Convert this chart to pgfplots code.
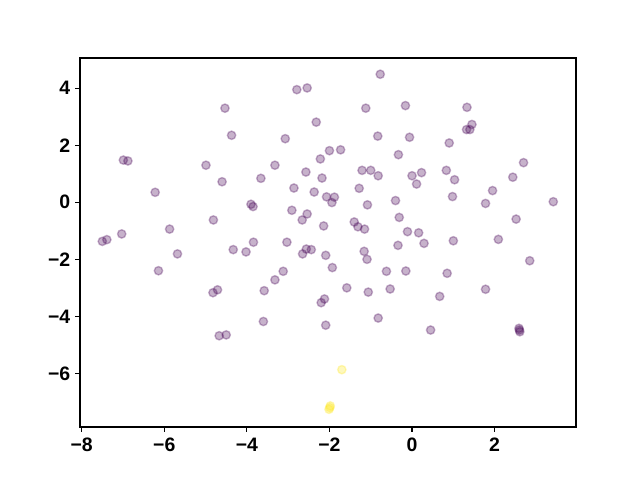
\documentclass[border=0pt]{standalone}
\usepackage{pgfplots}
\pgfplotsset{compat=1.18}
\usepackage{fontspec}
\setmainfont{Liberation Sans}
\definecolor{vpurple}{HTML}{440154}
\definecolor{vyellow}{HTML}{FDE725}
\begin{document}
\begin{tikzpicture}
\path[use as bounding box] (-57.6pt,-38.16pt) rectangle (403.2pt,307.44pt);
\begin{axis}[
  scale only axis,
  width=357.12pt, height=265.68pt,
  xmin=-8.04, xmax=3.97, ymin=-7.88, ymax=5.06,
  axis line style={line width=0.8pt},
  tick style={line width=0.8pt, black},
  tick align=outside, major tick length=3.5pt,
  xtick pos=bottom, ytick pos=left,
  xtick={-8,-6,-4,-2,0,2}, xticklabels={−8,−6,−4,−2,0,2},
  ytick={-6,-4,-2,0,2,4}, yticklabels={−6,−4,−2,0,2,4},
  ticklabel style={font=\bfseries\fontsize{14}{16}\selectfont},
  xticklabel style={yshift=-1pt},
  every axis plot/.append style={only marks, mark=*, mark size=3pt},
]
\addplot[vpurple, mark options={fill=vpurple, fill opacity=0.3, draw opacity=0.3, line width=1pt}] coordinates {
(-0.77,4.49) (-2.79,3.95) (-2.54,4.01) (-4.53,3.30) (-1.12,3.30) (-0.16,3.39)
(1.33,3.33) (-2.32,2.81) (-4.37,2.35) (-3.07,2.23) (-0.83,2.32) (-0.06,2.28)
(0.90,2.08) (1.32,2.55) (1.40,2.55) (1.45,2.73) (-6.99,1.48) (-6.88,1.45)
(-4.99,1.30) (-4.60,0.72) (-0.33,1.67) (-2.00,1.81) (-1.73,1.84) (-2.22,1.52)
(-3.32,1.30) (-2.57,1.06) (-1.21,1.12) (-1.00,1.12) (-0.82,0.93) (-3.66,0.84)
(-2.18,0.85) (0.00,0.93) (2.70,1.39) (2.44,0.88) (0.83,1.12) (1.03,0.79)
(0.23,1.04) (0.11,0.64) (-6.22,0.35) (-2.86,0.50) (-2.37,0.36) (-2.07,0.19)
(-1.88,0.18) (-1.94,-0.01) (-1.28,0.49) (-1.08,-0.09) (-0.40,0.06) (-0.31,-0.53)
(-0.11,-1.03) (-3.90,-0.07) (-3.85,-0.15) (-2.91,-0.28) (-2.54,-0.41) (-2.66,-0.62)
(-2.14,-0.83) (-1.40,-0.69) (-1.31,-0.86) (-1.15,-0.94) (0.98,0.20) (1.95,0.41)
(1.78,-0.04) (3.42,0.02) (2.52,-0.59) (0.16,-1.07) (0.29,-1.44) (1.00,-1.35)
(2.09,-1.30) (2.85,-2.05) (0.85,-2.49) (1.78,-3.05) (0.67,-3.30) (-4.81,-0.62)
(-5.87,-0.94) (-7.03,-1.11) (-7.50,-1.37) (-7.39,-1.31) (-5.68,-1.81) (-4.33,-1.66)
(-4.02,-1.74) (-6.14,-2.40) (-4.82,-3.17) (-4.71,-3.07) (-3.84,-1.40) (-3.03,-1.40)
(-2.65,-1.81) (-2.56,-1.64) (-2.44,-1.66) (-2.09,-1.86) (-1.16,-1.72) (-1.09,-2.00)
(-0.34,-1.51) (-1.93,-2.29) (-3.12,-2.42) (-0.62,-2.42) (-0.15,-2.41) (-3.32,-2.72)
(-3.58,-3.10) (-1.58,-3.00) (-1.06,-3.15) (-0.53,-3.04) (-2.20,-3.52) (-2.12,-3.39)
(-4.67,-4.68) (-4.50,-4.65) (-3.60,-4.18) (-2.09,-4.31) (-0.82,-4.06) (0.45,-4.48)
(2.59,-4.42) (2.61,-4.54) (2.60,-4.48)
};
\addplot[vyellow, mark options={fill=vyellow, fill opacity=0.3, draw opacity=0.3, line width=1pt}] coordinates {
(-1.70,-5.87) (-1.98,-7.14) (-2.01,-7.26) (-1.99,-7.20)
};
\end{axis}
\end{tikzpicture}
\end{document}
